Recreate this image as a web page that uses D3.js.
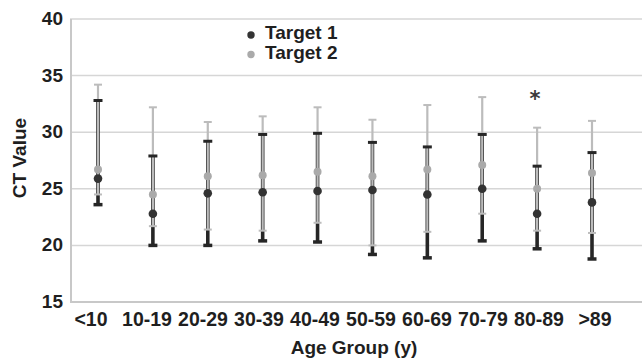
<!DOCTYPE html>
<html>
<head>
<meta charset="utf-8">
<script src="https://cdnjs.cloudflare.com/ajax/libs/d3/7.8.5/d3.min.js"></script>
<style>
	body { margin: 0; background: #fff; }
	.tick-label { font-family: 'Liberation Sans', Arial, sans-serif; font-weight: bold; fill: #1f1f1f; }
	.legend text { font-family: 'Liberation Sans', Arial, sans-serif; font-weight: bold; fill: #1f1f1f; }
</style>
</head>
<body>
<script>
// Data
var categories = ['<10', '10-19', '20-29', '30-39', '40-49', '50-59', '60-69', '70-79', '80-89', '>89'];
var t1Mean = [25.9, 22.8, 24.6, 24.7, 24.8, 24.9, 24.5, 25.0, 22.8, 23.8];
var t1Low  = [23.6, 20.0, 20.0, 20.4, 20.3, 19.2, 18.9, 20.4, 19.7, 18.8];
var t1High = [32.8, 27.9, 29.2, 29.8, 29.9, 29.1, 28.7, 29.8, 27.0, 28.2];
var t2Mean = [26.7, 24.5, 26.1, 26.2, 26.5, 26.1, 26.7, 27.1, 25.0, 26.4];
var t2Low  = [24.5, 21.7, 21.4, 21.3, 22.0, 20.0, 21.2, 22.8, 21.3, 21.1];
var t2High = [34.2, 32.2, 30.9, 31.4, 32.2, 31.1, 32.4, 33.1, 30.4, 31.0];
var yTicks = [15, 20, 25, 30, 35, 40];
var seriesNames = ['Target 1', 'Target 2'];
var starred = ['80-89'];

var width = 642, height = 361;

var svg = d3.select('body').append('svg')
			.attr('width', width)
			.attr('height', height);

// Scales
var xScale = d3.scalePoint().domain(categories).range([98, 592]);
var xLabelScale = d3.scalePoint().domain(categories).range([91, 595]);
var yScale = d3.scaleLinear().domain([15, 40]).range([302, 19]);

// Gridlines
svg.append('g')
	.selectAll('line')
		.data(yTicks.filter(function(d) { return d > 15; }))
		.enter()
	.append('line')
		.attr('x1', 70)
		.attr('x2', width)
		.attr('y1', function(d) { return yScale(d); })
		.attr('y2', function(d) { return yScale(d); })
		.attr('stroke', '#d6d6d6')
		.attr('stroke-width', 1.5);

// Axis lines
svg.append('line')
	.attr('x1', 71).attr('x2', 71)
	.attr('y1', yScale(40)).attr('y2', yScale(15))
	.attr('stroke', '#c8c8c8').attr('stroke-width', 2);
svg.append('line')
	.attr('x1', 70).attr('x2', width)
	.attr('y1', yScale(15)).attr('y2', yScale(15))
	.attr('stroke', '#c8c8c8').attr('stroke-width', 2);

// Y tick labels
svg.append('g')
	.selectAll('text')
		.data(yTicks)
		.enter()
	.append('text')
		.attr('class', 'tick-label')
		.attr('x', 63)
		.attr('y', function(d) { return yScale(d); })
		.attr('dy', '0.32em')
		.style('font-size', '19px')
		.style('text-anchor', 'end')
		.text(function(d) { return d; });

// X tick labels
svg.append('g')
	.selectAll('text')
		.data(categories)
		.enter()
	.append('text')
		.attr('class', 'tick-label')
		.attr('x', function(d) { return xLabelScale(d); })
		.attr('y', 326)
		.style('font-size', '19.5px')
		.style('text-anchor', 'middle')
		.text(function(d) { return d; });

// Axis titles
svg.append('text')
	.attr('class', 'tick-label')
	.attr('x', 354)
	.attr('y', 354)
	.style('font-size', '19px')
	.style('text-anchor', 'middle')
	.text('Age Group (y)');
svg.append('text')
	.attr('class', 'tick-label')
	.attr('transform', 'translate(26,158) rotate(-90)')
	.style('font-size', '19px')
	.style('text-anchor', 'middle')
	.text('CT Value');

// Build rows
var rows = categories.map(function(c, i) {
	return { cat: c, m1: t1Mean[i], lo1: t1Low[i], hi1: t1High[i], m2: t2Mean[i], lo2: t2Low[i], hi2: t2High[i] };
});

var marks = svg.append('g');

// Target 1 bars (dark, behind)
marks.selectAll('.bar1')
		.data(rows)
		.enter()
	.append('line')
		.attr('class', 'bar1')
		.attr('x1', function(d) { return xScale(d.cat); })
		.attr('x2', function(d) { return xScale(d.cat); })
		.attr('y1', function(d) { return yScale(d.lo1); })
		.attr('y2', function(d) { return yScale(d.hi1); })
		.attr('stroke', '#262626')
		.attr('stroke-width', 3.6);

// Target 2 bars (light, on top)
marks.selectAll('.bar2')
		.data(rows)
		.enter()
	.append('line')
		.attr('class', 'bar2')
		.attr('x1', function(d) { return xScale(d.cat); })
		.attr('x2', function(d) { return xScale(d.cat); })
		.attr('y1', function(d) { return yScale(d.lo2); })
		.attr('y2', function(d) { return yScale(d.hi2); })
		.attr('stroke', '#bcbcbc')
		.attr('stroke-width', 2.2);

// Caps
function caps(key, cls, color, w, sw) {
	marks.selectAll('.' + cls)
			.data(rows)
			.enter()
		.append('line')
			.attr('class', cls)
			.attr('x1', function(d) { return xScale(d.cat) - w / 2; })
			.attr('x2', function(d) { return xScale(d.cat) + w / 2; })
			.attr('y1', function(d) { return yScale(d[key]); })
			.attr('y2', function(d) { return yScale(d[key]); })
			.attr('stroke', color)
			.attr('stroke-width', sw);
}
caps('hi2', 'cap2h', '#bcbcbc', 8, 2);
caps('lo2', 'cap2l', '#bcbcbc', 8, 2);
caps('hi1', 'cap1h', '#262626', 9, 3);
caps('lo1', 'cap1l', '#262626', 9, 3.5);

// Markers
marks.selectAll('.dot2')
		.data(rows)
		.enter()
	.append('circle')
		.attr('class', 'dot2')
		.attr('cx', function(d) { return xScale(d.cat); })
		.attr('cy', function(d) { return yScale(d.m2); })
		.attr('r', 4)
		.attr('fill', '#aaaaaa');
marks.selectAll('.dot1')
		.data(rows)
		.enter()
	.append('circle')
		.attr('class', 'dot1')
		.attr('cx', function(d) { return xScale(d.cat); })
		.attr('cy', function(d) { return yScale(d.m1); })
		.attr('r', 4.3)
		.attr('fill', '#333333');

// Significance marker
svg.selectAll('.star')
		.data(starred)
		.enter()
	.append('text')
		.attr('class', 'star')
		.attr('x', function(d) { return xScale(d) - 2; })
		.attr('y', 106)
		.style('font-family', 'DejaVu Sans, sans-serif')
		.style('font-weight', 'bold')
		.style('font-size', '21px')
		.style('fill', '#3a3a3a')
		.style('text-anchor', 'middle')
		.text('*');

// Legend
var legend = svg.append('g')
				.attr('class', 'legend')
				.selectAll('g')
					.data(seriesNames)
					.enter()
				.append('g')
					.attr('transform', function(d, i) { return 'translate(251,' + (35 + i * 19.5) + ')'; });
legend.append('circle')
		.attr('r', 3.7)
		.attr('fill', function(d, i) { return i === 0 ? '#333333' : '#aaaaaa'; });
legend.append('text')
		.attr('x', 14)
		.attr('y', 4)
		.style('font-size', '19px')
		.text(function(d) { return d; });
</script>
</body>
</html>
